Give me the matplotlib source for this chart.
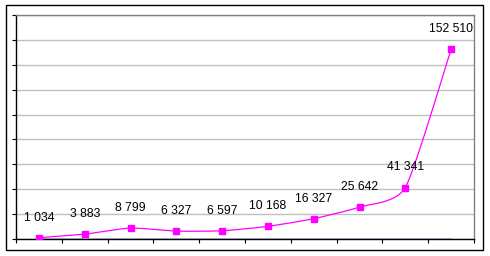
import numpy as np
import matplotlib
matplotlib.use("Agg")
import matplotlib.pyplot as plt
from matplotlib.patches import Rectangle

categories = [str(i) for i in range(1, 11)]
values = [1034, 3883, 8799, 6327, 6597, 10168, 16327, 25642, 41341, 152510]
labels = ["1 034", "3 883", "8 799", "6 327", "6 597", "10 168", "16 327", "25 642", "41 341", "152 510"]
baseline = [0] * 10

W, H = 490, 256
fig = plt.figure(figsize=(W / 100, H / 100), dpi=100)
fig.patch.set_facecolor("white")

# outer frame
fig.patches.append(Rectangle((6 / W, (H - 250) / H), 477 / W, 245 / H,
                             transform=fig.transFigure, fill=False,
                             edgecolor="black", linewidth=1.0))

ax = fig.add_axes([16 / W, (H - 239) / H, 458 / W, 224 / H])
n = len(values)
x = np.arange(n)


def smooth(xs, ys, k=1 / 10, steps=20):
    xs = np.asarray(xs, float)
    ys = np.asarray(ys, float)
    px = np.concatenate([[xs[0]], xs, [xs[-1]]])
    py = np.concatenate([[ys[0]], ys, [ys[-1]]])
    ox, oy = [], []
    for i in range(1, len(px) - 2):
        p0 = np.array([px[i - 1], py[i - 1]])
        p1 = np.array([px[i], py[i]])
        p2 = np.array([px[i + 1], py[i + 1]])
        p3 = np.array([px[i + 2], py[i + 2]])
        c1 = p1 + (p2 - p0) * k
        c2 = p2 - (p3 - p1) * k
        t = np.linspace(0, 1, steps)[:, None]
        pts = ((1 - t) ** 3) * p1 + 3 * ((1 - t) ** 2) * t * c1 + 3 * (1 - t) * t ** 2 * c2 + t ** 3 * p2
        ox.extend(pts[:, 0])
        oy.extend(pts[:, 1])
    return ox, oy


ax.plot(x, baseline, color="#000080", linewidth=1.0, zorder=3)
sx, sy = smooth(x, values)
ax.plot(sx, sy, color="#FF00FF", linewidth=0.9, zorder=4)
ax.plot(x, values, linestyle="none", marker="s", markersize=4.3,
        color="#FF00FF", zorder=5)

for xi, v, lab in zip(x, values, labels):
    ax.annotate(lab, (xi, v), xytext=(0, 14.5), textcoords="offset points",
                ha="center", va="center", fontsize=8.8, color="black",
                family="Liberation Sans", zorder=6)

ax.set_xlim(-0.5, n - 0.5)
ax.set_ylim(0, 180000)
ax.set_yticks(np.arange(0, 180001, 20000))
ax.set_yticklabels([])
ax.set_xticks(np.arange(-0.5, n, 1.0))
ax.set_xticklabels([])
ax.yaxis.grid(True, color="#C0C0C0", linewidth=1.0)
ax.set_axisbelow(True)
ax.tick_params(axis="both", direction="out", length=3, width=0.8, color="black")
for side in ("top", "right"):
    ax.spines[side].set_color("#808080")
    ax.spines[side].set_linewidth(1.0)
for side in ("left", "bottom"):
    ax.spines[side].set_color("black")
    ax.spines[side].set_linewidth(1.0)

fig.savefig("out.png", dpi=100, facecolor="white")
